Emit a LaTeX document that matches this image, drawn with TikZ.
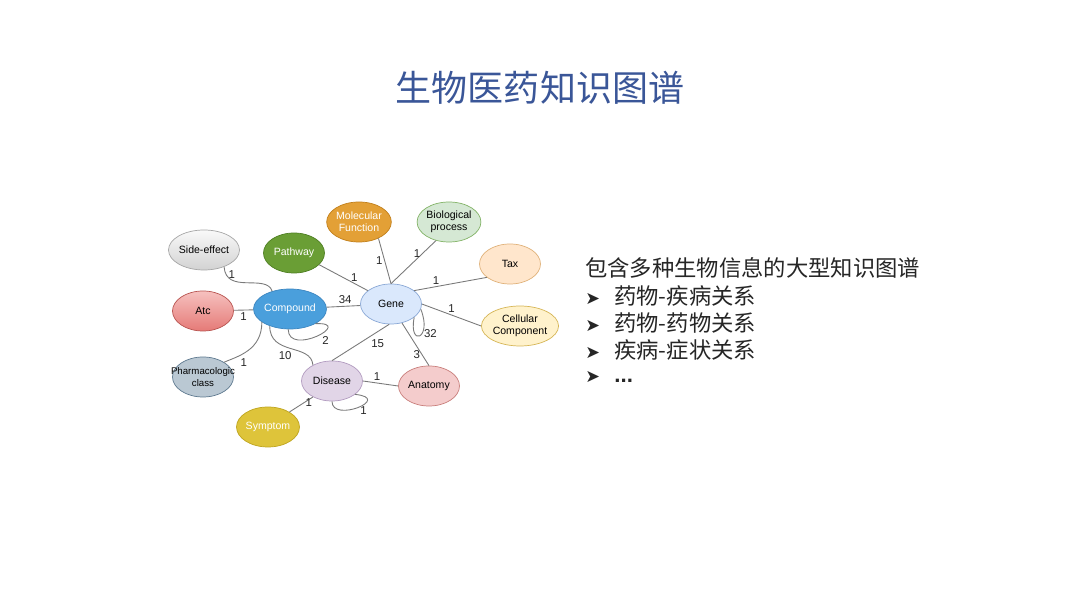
\documentclass[tikz,border=0pt]{standalone}
\usepackage{fontspec}
\setmainfont{Liberation Sans}
\newfontfamily\cjk{Noto Sans CJK SC}
\newfontfamily\bulletfont{DejaVu Sans}
\usepackage{xcolor}
\usetikzlibrary{shapes.geometric,positioning}

\definecolor{titleblue}{HTML}{3A5698}
\definecolor{textgray}{HTML}{262626}
\definecolor{linkgray}{HTML}{7A7A7A}
% node colours
\definecolor{pathF}{HTML}{6A9E35}\definecolor{pathD}{HTML}{4E7F22}
\definecolor{molfF}{HTML}{E3A036}\definecolor{molfD}{HTML}{C17F1A}
\definecolor{biopF}{HTML}{D5E8D4}\definecolor{biopD}{HTML}{82B366}
\definecolor{taxF}{HTML}{FFE6CC}\definecolor{taxD}{HTML}{E0B27A}
\definecolor{cellF}{HTML}{FFF2CC}\definecolor{cellD}{HTML}{D6B656}
\definecolor{atcT}{HTML}{F6C1BF}\definecolor{atcB}{HTML}{E57A77}\definecolor{atcD}{HTML}{B85450}
\definecolor{compF}{HTML}{4A9FDC}\definecolor{compD}{HTML}{3C86C0}
\definecolor{geneF}{HTML}{DAE8FC}\definecolor{geneD}{HTML}{8AA8D6}
\definecolor{pharF}{HTML}{BAC8D3}\definecolor{pharD}{HTML}{5F7A90}
\definecolor{disF}{HTML}{E1D5E7}\definecolor{disD}{HTML}{B29BC0}
\definecolor{anatF}{HTML}{F4CCCC}\definecolor{anatD}{HTML}{C97F7C}
\definecolor{sympF}{HTML}{DEC43A}\definecolor{sympD}{HTML}{BFA520}

\newcommand{\itemarrow}{\makebox[0.58cm][l]{\bulletfont\fontsize{10}{10}\selectfont ➤}}

\begin{document}
\begin{tikzpicture}[x=0.02cm, y=0.02cm,
		% Style definitions
		ent/.style={
			ellipse,
			draw,
			line width=0.4pt,
			minimum width=1.22cm,
			minimum height=0.8cm,
			inner sep=0pt,
			align=center,
			font=\fontsize{6}{6.9}\selectfont
		},
		link/.style={
			draw=linkgray,
			line width=0.5pt
		},
		lbl/.style={
			font=\fontsize{6.5}{7}\selectfont,
			inner sep=1pt,
			text=black!85
		},
		txt/.style={
			anchor=west,
			inner sep=0pt,
			font=\cjk\fontsize{12.7}{15}\selectfont,
			text=textgray
		}
		]
		\path[use as bounding box, fill=white] (0,0) rectangle (1080,609);
		
		% Title
		\node[font=\cjk\fontsize{20.5}{24}\selectfont, text=titleblue] (title) at (540,521) {生物医药知识图谱};
		
		% Entity types
		\node[ent, top color=gray!5, bottom color=gray!35, draw=gray!70] (side) at (204,359) {Side-effect};
		\node[ent, fill=pathF, draw=pathD, text=white] (path) at (294,356) {Pathway};
		\node[ent, fill=molfF, draw=molfD, text=white] (molf) at (359,387) {Molecular\\Function};
		\node[ent, fill=biopF, draw=biopD] (biop) at (449,387) {Biological\\process};
		\node[ent, fill=taxF, draw=taxD] (tax) at (510,345) {Tax};
		\node[ent, fill=cellF, draw=cellD] (cell) at (520,283) {Cellular\\Component};
		\node[ent, top color=atcT, bottom color=atcB, draw=atcD] (atc) at (203,298) {Atc};
		\node[ent, fill=compF, draw=compD, text=white] (comp) at (290,300) {Compound};
		\node[ent, fill=geneF, draw=geneD] (gene) at (391,305) {Gene};
		\node[ent, fill=pharF, draw=pharD, font=\fontsize{5.5}{6.6}\selectfont] (phar) at (203,232) {\makebox[0pt]{Pharmacologic}\\class};
		\node[ent, fill=disF, draw=disD] (dis) at (332,228) {Disease};
		\node[ent, fill=anatF, draw=anatD] (anat) at (429,223) {Anatomy};
		\node[ent, fill=sympF, draw=sympD, text=white] (symp) at (268,182) {Symptom};
		
		% Relations
		\draw[link] (side.-40) .. controls +(2,-28) and +(-6,18) .. (comp.135) node[lbl, pos=.12, right] {1};
		\draw[link] (atc) -- node[lbl, below] {1} (comp);
		\draw[link] (comp) -- node[lbl, pos=.55, above] {34} (gene);
		\draw[link] (path.-25) -- node[lbl, pos=.72, above] {1} (gene.150);
		\draw[link] (molf.-40) -- node[lbl, pos=.5, left] {1} (gene.north);
		\draw[link] (biop.-125) -- node[lbl, pos=.3, left] {1} (gene.north);
		\draw[link] (tax.-150) -- node[lbl, pos=.7, above] {1} (gene.30);
		\draw[link] (cell.west) -- node[lbl, pos=.5, above] {1} (gene.east);
		\draw[link] (gene.-30) .. controls +(-6,-30) and +(12,-30) .. (gene.-10) node[lbl, pos=.6, right] {32};
		\draw[link] (comp.-95) .. controls +(0,-28) and +(40,2) .. (comp.-30) node[lbl, pos=.55, below right] {2};
		\draw[link] (comp.-155) .. controls +(0,-28) and +(14,6) .. (phar.35) node[lbl, pos=.7, below right] {1};
		\draw[link] (comp.-140) .. controls +(0,-30) and +(-2,22) .. (dis.140) node[lbl, pos=.55, below left] {10};
		\draw[link] (gene.-95) -- node[lbl, pos=.35, below right] {15} (dis.north);
		\draw[link] (gene.-60) -- node[lbl, pos=.75, left] {3} (anat.north);
		\draw[link] (dis.east) -- node[lbl, pos=.4, above] {1} (anat.west);
		\draw[link] (dis.-90) .. controls +(0,-22) and +(38,-4) .. (dis.-30) node[lbl, pos=.6, below] {1};
		\draw[link] (dis.-140) -- node[lbl, pos=.4, right] {1} (symp.35);
		
		% Description
		\node[txt] (intro) at (585,341) {包含多种生物信息的大型知识图谱};
		\node[txt] (item1) at (585,313) {\itemarrow 药物-疾病关系};
		\node[txt] (item2) at (585,286) {\itemarrow 药物-药物关系};
		\node[txt] (item3) at (585,259) {\itemarrow 疾病-症状关系};
		\node[txt] (item4) at (585,232) {\itemarrow {\fontspec{Liberation Sans}\bfseries ...}};
		
	\end{tikzpicture}
\end{document}
